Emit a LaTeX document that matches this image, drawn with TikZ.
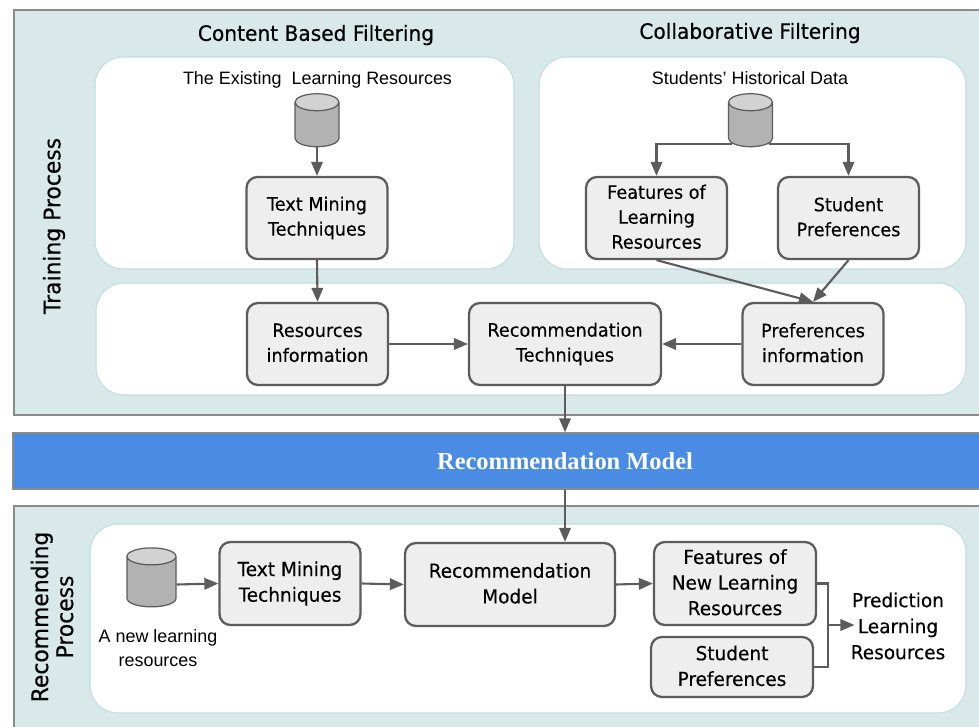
\documentclass[tikz,border=0pt]{standalone}
\usepackage{fontspec}
\setmainfont[FakeStretch=0.957,FakeBold=0.3]{DejaVu Sans}
\newfontfamily\labelfont{Liberation Sans}
\newfontfamily\bandfont{Liberation Serif}
\usepackage{tikz}
\usetikzlibrary{arrows.meta,shapes.geometric}
\definecolor{panelteal}{HTML}{D9E8E8}
\definecolor{paneledge}{HTML}{C0DEE2}
\definecolor{framegray}{HTML}{8A8A8A}
\definecolor{linegray}{HTML}{5C5C5C}
\definecolor{boxfill}{HTML}{EEEEEE}
\definecolor{bandblue}{HTML}{4A8BE3}
\tikzset{
  frame/.style={draw=framegray,fill=panelteal,line width=0.8pt},
  panel/.style={draw=paneledge,fill=white,line width=0.6pt,rounded corners=0.56cm},
  techbox/.style={draw=linegray,fill=boxfill,line width=1.3pt,rounded corners=0.22cm,align=center,
    minimum width=2.82cm,minimum height=1.64cm,inner sep=0pt,font=\fontsize{10.5}{14.2}\selectfont,
    execute at begin node={\rule{0pt}{10pt}},execute at end node={\rule[-1.48pt]{0pt}{1.48pt}}},
  lowbox/.style={techbox,font=\fontsize{11}{14.6}\selectfont},
  plaintext/.style={align=center,inner sep=0pt,font=\fontsize{11}{14.8}\selectfont},
  headtext/.style={inner sep=0pt,font=\fontsize{12}{14}\selectfont},
  sidetext/.style={align=center,inner sep=0pt,rotate=90,font=\fontsize{13}{14.2}\selectfont},
  srctext/.style={align=center,inner sep=0pt,font=\labelfont\fontsize{10.2}{13.6}\selectfont},
  store/.style={cylinder,shape border rotate=90,shape aspect=1.7,draw=linegray,line width=0.7pt,
    cylinder uses custom fill,cylinder body fill=gray!60,cylinder end fill=gray!35,
    minimum width=0.88cm,minimum height=1.06cm,inner sep=0.1cm},
  link/.style={draw=linegray,line width=1.2pt},
  flow/.style={link,-{Triangle[length=0.28cm,width=0.23cm]}}
}
\begin{document}
\begin{tikzpicture}
  \useasboundingbox (0,0) rectangle (19.58,14.52);
  \clip (0,0) rectangle (19.58,14.52);
  \draw[frame] (0.28,14.32) rectangle (20,6.22);
  \draw[frame] (0.28,4.40) rectangle (20,-0.2);
  \draw[panel] (1.9,13.38) rectangle (10.28,9.14);
  \draw[panel] (10.78,13.38) rectangle (19.32,9.14);
  \draw[panel] (1.92,8.86) rectangle (19.32,6.62);
  \draw[panel] (1.8,4.04) rectangle (19.32,0.26);

  \draw (11.3,5.3) node[draw=framegray,fill=bandblue,text=white,line width=0.8pt,minimum width=22.08cm,minimum height=1.12cm,inner sep=0pt,font=\bandfont\bfseries\fontsize{13.9}{14}\selectfont] (model) {Recommendation Model};

  \draw (6.32,13.82) node[headtext] (content) {Content Based Filtering};
  \draw (15.0,13.86) node[headtext] (collab) {Collaborative Filtering};
  \draw (6.35,12.92) node[srctext] (existing) {The Existing\ \ Learning Resources};
  \draw (15,12.96) node[srctext] (history) {Students’ Historical Data};
  \draw (1.08,10.0) node[sidetext] (training) {Training Process};
  \draw (1.04,2.18) node[sidetext] (recommending) {Recommending\\Process};
  \draw (3.16,1.56) node[srctext] (newres) {A new learning\\resources};

  \draw (6.34,11.97) node[store] (db1) {};
  \draw (15.01,11.97) node[store] (db2) {};
  \draw (3.03,2.83) node[store,minimum width=0.98cm,minimum height=1.18cm] (db3) {};

  \draw (6.34,10.16) node[techbox] (text1) {Text Mining\\Techniques};
  \draw (13.13,10.16) node[techbox] (feat1) {Features of\\Learning\\Resources};
  \draw (16.97,10.16) node[techbox] (stud1) {Student\\Preferences};
  \draw (6.35,7.64) node[techbox] (resinfo) {Resources\\information};
  \draw (11.3,7.64) node[techbox,minimum width=3.84cm] (rectech) {Recommendation\\Techniques};
  \draw (16.26,7.64) node[techbox] (prefinfo) {Preferences\\information};
  \draw (5.8,2.85) node[lowbox,minimum height=1.66cm] (text2) {Text Mining\\Techniques};
  \draw (10.2,2.83) node[lowbox,minimum width=4.2cm,minimum height=1.66cm] (recmodel) {Recommendation\\Model};
  \draw (14.7,2.85) node[lowbox,minimum width=3.24cm,minimum height=1.66cm] (feat2) {Features of\\New Learning\\Resources};
  \draw (14.64,1.18) node[lowbox,minimum width=3.24cm,minimum height=1.2cm] (stud2) {Student\\Preferences};
  \draw (17.96,2.0) node[plaintext] (pred) {Prediction\\Learning\\Resources};
  \coordinate (bus) at (16.56,2.02);

  \path (db1.south) edge[flow] (text1.north);
  \path (text1.south) edge[flow] (resinfo.north);
  \draw[flow] (db2.222) -| (feat1.north);
  \draw[flow] (db2.318) -| (stud1.north);
  \path (feat1.south) edge[flow] (prefinfo.north);
  \path (stud1.south) edge[flow] (prefinfo.north);
  \path (resinfo.east) edge[flow] (rectech.west);
  \path (prefinfo.west) edge[flow] (rectech.east);
  \draw[flow] (rectech.south) -- (rectech.south |- model.north);
  \draw[flow] (model.south) -- (model.south |- recmodel.north);
  \path (db3.east) edge[flow] (text2.west);
  \path (text2.east) edge[flow] (recmodel.west);
  \path (recmodel.east) edge[flow] (feat2.west);
  \draw[link] (feat2.east) -| (bus) |- (stud2.east);
  \draw[flow,shorten >=-0.08cm] (bus) -- (pred.west |- bus);
\end{tikzpicture}
\end{document}
